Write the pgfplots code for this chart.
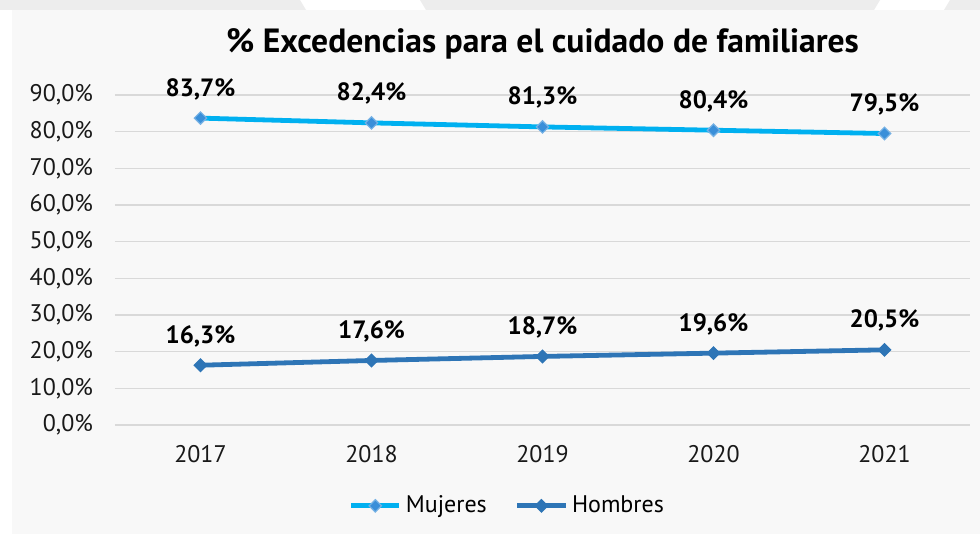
\documentclass[border=0pt]{standalone}
\usepackage{pgfplots}
\pgfplotsset{compat=1.18}
\usepackage{fontspec}
\setmainfont{PT Sans}
\definecolor{bgc}{HTML}{F8F8F8}
\definecolor{topg}{HTML}{EDEDED}
\definecolor{muj}{HTML}{00B0F0}
\definecolor{mujm}{HTML}{3A8FD9}
\definecolor{hom}{HTML}{2E75B6}
\definecolor{gridc}{HTML}{D9D9D9}
\begin{document}
\begin{tikzpicture}
\begin{scope}[x=0.5pt,y=0.5pt]
\fill[white] (0,0) rectangle (980,534);
\fill[topg] (0,534) -- (300,534) -- (306,524) -- (0,524) -- cycle;
\fill[topg] (420,534) -- (880,534) -- (874,524) -- (426,524) -- cycle;
\fill[topg] (950,534) -- (980,534) -- (980,524) -- (944,524) -- cycle;
\fill[bgc] (12,0) rectangle (980,524);
\end{scope}
\begin{axis}[
  at={(57.5pt,54.5pt)}, anchor=south west,
  scale only axis, width=427.5pt, height=165pt,
  xmin=-0.5, xmax=4.5, ymin=0, ymax=90,
  xtick={0,1,2,3,4}, xticklabels={2017,2018,2019,2020,2021},
  ytick={0,10,...,90},
  yticklabels={{0,0\%},{10,0\%},{20,0\%},{30,0\%},{40,0\%},{50,0\%},{60,0\%},{70,0\%},{80,0\%},{90,0\%}},
  tick style={draw=none},
  axis line style={draw=none},
  ymajorgrids, grid style={gridc, line width=0.6pt},
  ticklabel style={font=\fontsize{12}{14}\selectfont, text=black!90},
  xticklabel style={yshift=-6.5pt},
  yticklabel style={xshift=-7.5pt},
  /pgf/number format/assume math mode=true,
  clip=false,
  point meta=y,
  nodes near coords={\pgfmathprintnumber[fixed,fixed zerofill,precision=1,use comma,assume math mode=true]{\pgfplotspointmeta}\%},
  nodes near coords style={font=\bfseries\fontsize{12.5}{14}\selectfont, anchor=south, yshift=5.5pt, text=black},
  title={\% Excedencias para el cuidado de familiares},
  title style={font=\bfseries\fontsize{16.8}{18}\selectfont, at={(0.5,1)}, anchor=center, yshift=19.5pt},
  legend style={at={(0.46,-0.245)}, anchor=center, draw=none, fill=none, legend columns=2,
    font=\fontsize{12}{14}\selectfont, /tikz/every even column/.append style={column sep=12pt}},
  legend image code/.code={\draw[#1] (0cm,0cm) -- (0.85cm,0cm); \draw[#1] plot coordinates {(0.425cm,0cm)};},
]
\addplot[muj, line width=2.4pt, mark=square*, mark size=2.2pt, mark options={rotate=45, fill=mujm, draw=mujm!70!white, line width=0.6pt}]
  coordinates {(0,83.7) (1,82.4) (2,81.3) (3,80.4) (4,79.5)};
\addlegendentry{Mujeres}
\addplot[hom, line width=2.4pt, mark=square*, mark size=2.2pt, mark options={rotate=45, fill=hom, draw=hom, line width=0.6pt}]
  coordinates {(0,16.3) (1,17.6) (2,18.7) (3,19.6) (4,20.5)};
\addlegendentry{Hombres}
\end{axis}
\end{tikzpicture}
\end{document}
